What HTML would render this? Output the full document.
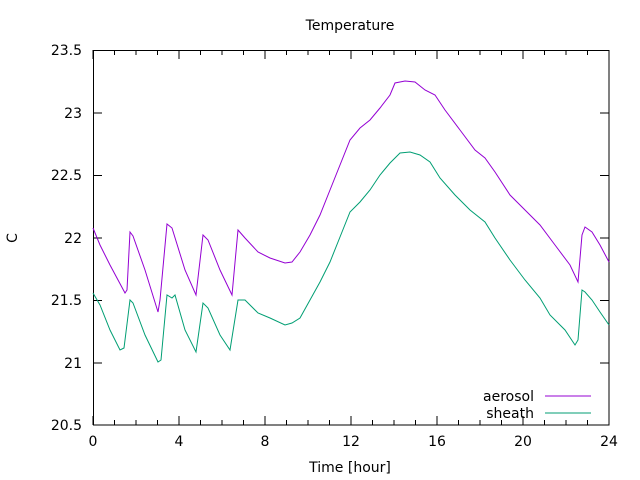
<!DOCTYPE html>
<html><head><meta charset="utf-8"><style>
body{margin:0;background:#fff}
svg{display:block;font-family:"DejaVu Sans","Liberation Sans",sans-serif}
</style></head><body>
<svg width="640" height="480" viewBox="0 0 640 480">
<rect width="640" height="480" fill="#fff"/>
<g stroke="#000" stroke-width="1">
<path d="M93,50.5h9M609,50.5h-9M93,113h9M609,113h-9M93,175.5h9M609,175.5h-9M93,238h9M609,238h-9M93,300.5h9M609,300.5h-9M93,363h9M609,363h-9M93,425h9M609,425h-9"/>
<path d="M93,425v-9M179,425v-9M265,425v-9M351,425v-9M437,425v-9M523,425v-9M609,425v-9M93,50v9M179,50v9M265,50v9M351,50v9M437,50v9M523,50v9M609,50v9"/>
<path d="M114.5,425v-5M136,425v-5M157.5,425v-5M200.5,425v-5M222,425v-5M243.5,425v-5M286.5,425v-5M308,425v-5M329.5,425v-5M372.5,425v-5M394,425v-5M415.5,425v-5M458.5,425v-5M480,425v-5M501.5,425v-5M544.5,425v-5M566,425v-5M587.5,425v-5M114.5,50v5M136,50v5M157.5,50v5M200.5,50v5M222,50v5M243.5,50v5M286.5,50v5M308,50v5M329.5,50v5M372.5,50v5M394,50v5M415.5,50v5M458.5,50v5M480,50v5M501.5,50v5M544.5,50v5M566,50v5M587.5,50v5"/>
<rect x="93.5" y="50.5" width="515.5" height="374.5" fill="none"/>
</g>
<g font-size="14" fill="#000" text-anchor="end">
<text x="82" y="55">23.5</text><text x="82" y="118">23</text><text x="82" y="180">22.5</text><text x="82" y="243">22</text><text x="82" y="305">21.5</text><text x="82" y="368">21</text><text x="82" y="430">20.5</text>
</g>
<g font-size="14" fill="#000" text-anchor="middle">
<text x="93" y="446">0</text><text x="179" y="446">4</text><text x="265" y="446">8</text><text x="351" y="446">12</text><text x="437" y="446">16</text><text x="523" y="446">20</text><text x="609" y="446">24</text>
<text x="350" y="472">Time [hour]</text>
<text x="350" y="30">Temperature</text>
<text transform="translate(17,238) rotate(-90)">C</text>
</g>
<g font-size="14" fill="#000" text-anchor="end">
<text x="534" y="401">aerosol</text><text x="534" y="418">sheath</text>
</g>
<path d="M545,396h46" stroke="#9400d3" stroke-width="1"/>
<path d="M545,413h46" stroke="#009e73" stroke-width="1"/>
<polyline fill="none" stroke="#9400d3" stroke-width="1" points="93,228 100,245 110,265 125,293 127,290 130,232 133,236 145,270 158,312 160,300 167,224 172,228 185,270 196,295 203,235 208,240 220,270 232,295 238,230 245,238 258,252 270,258 285,263 292,262 300,252 310,235 320,215 330,190 340,165 350,140 360,128 370,120 380,108 390,95 395,83 405,81 415,82 425,90 435,95 445,110 460,130 475,150 485,158 495,172 510,195 525,210 540,225 555,245 570,265 578,282 582,235 585,227 592,232 600,245 609,262"/>
<polyline fill="none" stroke="#009e73" stroke-width="1" points="93,293 100,305 110,330 120,350 124,348 130,300 133,303 145,335 158,362 161,360 167,295 172,298 175,295 185,330 196,352 203,303 208,308 220,335 230,350 238,300 245,300 258,313 270,318 285,325 292,323 300,318 310,300 320,282 330,262 340,237 350,212 360,202 370,190 380,175 390,163 400,153 410,152 420,155 430,162 440,178 455,195 470,210 485,222 495,238 510,260 525,280 540,298 550,315 565,330 575,345 578,340 582,290 585,292 592,300 600,312 609,325"/>
</svg>
</body></html>
